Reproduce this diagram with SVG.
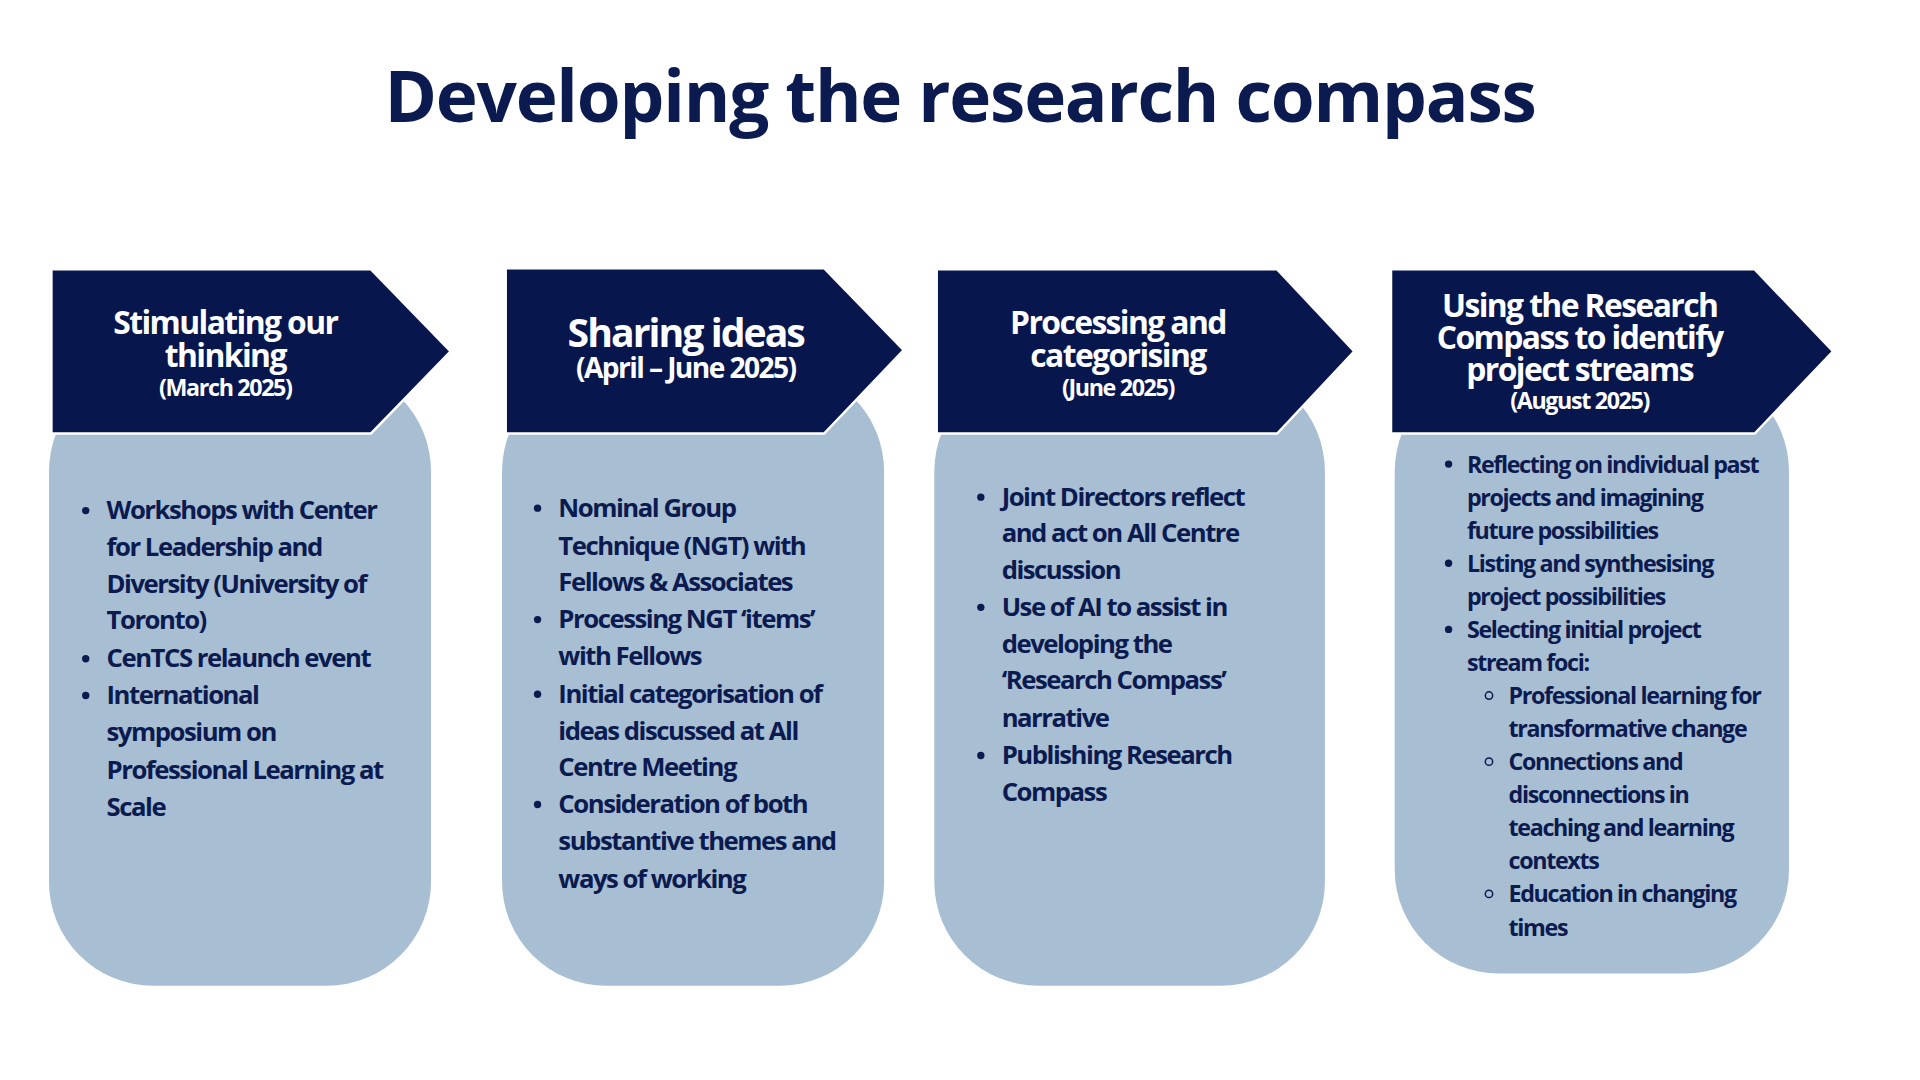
<svg xmlns="http://www.w3.org/2000/svg" width="1920" height="1080" viewBox="0 0 1920 1080">
<style>
.t{font-family:"Open Sans","Noto Sans",sans-serif;font-weight:700;fill:#0b1a4f}
.h{font-family:"Open Sans","Noto Sans",sans-serif;font-weight:700;fill:#fff;text-anchor:middle;font-size:26px;letter-spacing:-1.3px}
.hs{font-size:19px;letter-spacing:-1.1px}
.b{font-size:21px;letter-spacing:-1.2px}
.b4{font-size:19px;letter-spacing:-1.1px}
.card{fill:#a7bed3}
.arr{fill:#07164d;stroke:#fff;stroke-width:2}
</style>
<rect width="1920" height="1080" fill="#fff"/>
<g transform="scale(1.2245)">
<text x="784" y="100" class="t" text-anchor="middle" font-size="58" letter-spacing="-1">Developing the research compass</text>
<g id="stage1">
<rect class="card" x="40" y="300" width="312" height="505" rx="85"/>
<path class="arr" d="M42 220H303L368 287L303 354H42Z"/>
<text class="h" x="184" y="273">Stimulating our</text>
<text class="h" x="184" y="300">thinking</text>
<text class="h hs" x="184" y="323">(March 2025)</text>
<g class="t b">
<text x="87" y="424">Workshops with Center</text><text x="87" y="454">for Leadership and</text><text x="87" y="484">Diversity (University of</text><text x="87" y="514">Toronto)</text><text x="87" y="545">CenTCS relaunch event</text><text x="87" y="575">International</text><text x="87" y="605">symposium on</text><text x="87" y="636">Professional Learning at</text><text x="87" y="666">Scale</text>
</g>
<g fill="#0b1a4f"><circle cx="70" cy="417" r="3"/><circle cx="70" cy="538" r="3"/><circle cx="70" cy="568" r="3"/></g>
</g>
<g id="stage2">
<rect class="card" x="410" y="300" width="312" height="505" rx="85"/>
<path class="arr" d="M413 219H673L738 286L673 354H413Z"/>
<text class="h" x="560" y="283" style="font-size:32px;letter-spacing:-1.6px">Sharing ideas</text>
<text class="h" x="560" y="309" style="font-size:23px;letter-spacing:-1.3px">(April – June 2025)</text>
<g class="t b">
<text x="456" y="422">Nominal Group</text><text x="456" y="453">Technique (NGT) with</text><text x="456" y="483">Fellows &amp; Associates</text><text x="456" y="513">Processing NGT ‘items’</text><text x="456" y="543">with Fellows</text><text x="456" y="574">Initial categorisation of</text><text x="456" y="604">ideas discussed at All</text><text x="456" y="634">Centre Meeting</text><text x="456" y="664">Consideration of both</text><text x="456" y="694">substantive themes and</text><text x="456" y="725">ways of working</text>
</g>
<g fill="#0b1a4f"><circle cx="439" cy="415" r="3"/><circle cx="439" cy="506" r="3"/><circle cx="439" cy="567" r="3"/><circle cx="439" cy="657" r="3"/></g>
</g>
<g id="stage3">
<rect class="card" x="763" y="300" width="319" height="505" rx="85"/>
<path class="arr" d="M765 220H1043L1106 287L1043 354H765Z"/>
<text class="h" x="913" y="273">Processing and</text>
<text class="h" x="913" y="300">categorising</text>
<text class="h hs" x="913" y="323">(June 2025)</text>
<g class="t b">
<text x="818" y="413">Joint Directors reflect</text><text x="818" y="443">and act on All Centre</text><text x="818" y="473">discussion</text><text x="818" y="503">Use of AI to assist in</text><text x="818" y="533">developing the</text><text x="818" y="563">‘Research Compass’</text><text x="818" y="594">narrative</text><text x="818" y="624">Publishing Research</text><text x="818" y="654">Compass</text>
</g>
<g fill="#0b1a4f"><circle cx="801" cy="406" r="3"/><circle cx="801" cy="496" r="3"/><circle cx="801" cy="617" r="3"/></g>
</g>
<g id="stage4">
<rect class="card" x="1139" y="300" width="322" height="495" rx="85"/>
<path class="arr" d="M1136 220H1433L1497 287L1433 354H1136Z"/>
<text class="h" x="1290" y="259">Using the Research</text>
<text class="h" x="1290" y="285">Compass to identify</text>
<text class="h" x="1290" y="311">project streams</text>
<text class="h hs" x="1290" y="334">(August 2025)</text>
<g class="t b4">
<text x="1198" y="386">Reflecting on individual past</text><text x="1198" y="413">projects and imagining</text><text x="1198" y="440">future possibilities</text><text x="1198" y="467">Listing and synthesising</text><text x="1198" y="494">project possibilities</text><text x="1198" y="521">Selecting initial project</text><text x="1198" y="548">stream foci:</text>
<text x="1232" y="575">Professional learning for</text><text x="1232" y="602">transformative change</text><text x="1232" y="629">Connections and</text><text x="1232" y="656">disconnections in</text><text x="1232" y="683">teaching and learning</text><text x="1232" y="710">contexts</text><text x="1232" y="737">Education in changing</text><text x="1232" y="764">times</text>
</g>
<g fill="#0b1a4f"><circle cx="1183" cy="379" r="3"/><circle cx="1183" cy="460" r="3"/><circle cx="1183" cy="514" r="3"/></g>
<g fill="none" stroke="#0b1a4f" stroke-width="1.2"><circle cx="1216" cy="568" r="3"/><circle cx="1216" cy="622" r="3"/><circle cx="1216" cy="730" r="3"/></g>
</g>
</g>
</svg>
